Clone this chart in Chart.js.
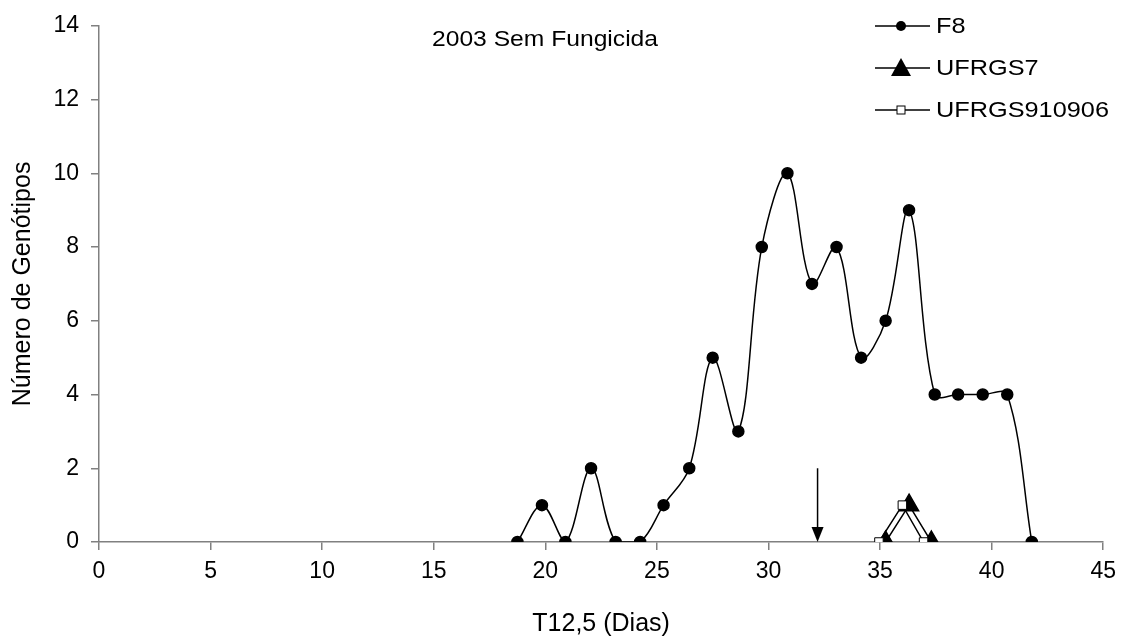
<!DOCTYPE html>
<html>
<head>
<meta charset="utf-8">
<script src="https://cdn.jsdelivr.net/npm/chart.js@4"></script>
<style>
  html, body { margin: 0; padding: 0; background: #fff; }
  #wrap { width: 1124px; height: 643px; }
</style>
</head>
<body>
<div id="wrap"><canvas id="chart"></canvas></div>
<script>
const f8Days = [18.75, 19.85, 20.9, 22.05, 23.15, 24.25, 25.3, 26.45, 27.5, 28.65, 29.7, 30.85, 31.95, 33.05, 34.15, 35.25, 36.3, 37.45, 38.5, 39.6, 40.7, 41.8];
const f8Values = [0, 1, 0, 2, 0, 0, 1, 2, 5, 3, 8, 10, 7, 8, 5, 6, 9, 4, 4, 4, 4, 0];
const ufrgs7Days = [35.25, 36.3, 37.3];
const ufrgs7Values = [0, 1, 0];
const ufrgs910906Days = [34.95, 36.0, 36.95];
const ufrgs910906Values = [0, 1, 0];
const arrowMark = { x: 32.2, from: 2, to: 0 };
const xTicks = [0, 5, 10, 15, 20, 25, 30, 35, 40, 45];
const yTicks = [0, 2, 4, 6, 8, 10, 12, 14];

const FONT = 'Arial, "Liberation Sans", sans-serif';
const toPoints = (xs, ys) => xs.map((x, i) => ({ x: x, y: ys[i] }));

// text in the source is a bit wider than tall, so stretch it a little
function wideText(ctx, text, x, y, stretch) {
  ctx.save();
  ctx.translate(x, y);
  ctx.scale(stretch, 1);
  ctx.fillText(text, 0, 0);
  ctx.restore();
}

// arrow, title and legend are drawn by hand like the original
const extras = {
  id: 'extras',
  afterDatasetsDraw(chart) {
    const ctx = chart.ctx;
    const xs = chart.scales.x, ys = chart.scales.y;
    const ax = xs.getPixelForValue(arrowMark.x);
    const y1 = ys.getPixelForValue(arrowMark.from);
    const y2 = ys.getPixelForValue(arrowMark.to);
    ctx.save();
    ctx.strokeStyle = '#000';
    ctx.fillStyle = '#000';
    ctx.lineWidth = 1.5;
    ctx.beginPath();
    ctx.moveTo(ax, y1);
    ctx.lineTo(ax, y2 - 10);
    ctx.stroke();
    ctx.beginPath();
    ctx.moveTo(ax - 6, y2 - 15);
    ctx.lineTo(ax + 6, y2 - 15);
    ctx.lineTo(ax, y2);
    ctx.closePath();
    ctx.fill();

    ctx.font = '22px ' + FONT;
    ctx.textBaseline = 'middle';
    ctx.textAlign = 'left';
    wideText(ctx, '2003 Sem Fungicida', 432, 40, 1.12);

    const rows = [
      { label: 'F8', y: 26, kind: 'circle' },
      { label: 'UFRGS7', y: 68, kind: 'triangle' },
      { label: 'UFRGS910906', y: 110, kind: 'square' }
    ];
    rows.forEach(r => {
      ctx.lineWidth = 1.5;
      ctx.strokeStyle = '#000';
      ctx.beginPath();
      ctx.moveTo(875, r.y);
      ctx.lineTo(930, r.y);
      ctx.stroke();
      ctx.fillStyle = '#000';
      if (r.kind === 'circle') {
        ctx.beginPath();
        ctx.arc(901, r.y, 5, 0, Math.PI * 2);
        ctx.fill();
      } else if (r.kind === 'triangle') {
        ctx.beginPath();
        ctx.moveTo(901, r.y - 10);
        ctx.lineTo(911, r.y + 8);
        ctx.lineTo(891, r.y + 8);
        ctx.closePath();
        ctx.fill();
      } else {
        ctx.fillStyle = '#fff';
        ctx.fillRect(897, r.y - 4, 8, 8);
        ctx.lineWidth = 1;
        ctx.strokeRect(897, r.y - 4, 8, 8);
      }
      ctx.fillStyle = '#000';
      wideText(ctx, r.label, 936, r.y + 1, 1.15);
    });
    ctx.restore();
  }
};

new Chart(document.getElementById('chart'), {
  type: 'line',
  data: {
    datasets: [
      {
        label: 'F8',
        data: toPoints(f8Days, f8Values),
        borderColor: '#000',
        borderWidth: 1.5,
        pointStyle: 'circle',
        pointRadius: 5.5,
        pointBackgroundColor: '#000',
        pointBorderColor: '#000',
        tension: 0.35,
        order: 1
      },
      {
        label: 'UFRGS7',
        data: toPoints(ufrgs7Days, ufrgs7Values),
        borderColor: '#000',
        borderWidth: 1.5,
        pointStyle: 'triangle',
        pointRadius: 11,
        pointBackgroundColor: '#000',
        pointBorderColor: '#000',
        tension: 0,
        order: 3
      },
      {
        label: 'UFRGS910906',
        data: toPoints(ufrgs910906Days, ufrgs910906Values),
        borderColor: '#000',
        borderWidth: 1.5,
        pointStyle: 'rect',
        pointRadius: 6,
        pointBorderWidth: 1,
        pointBackgroundColor: '#fff',
        pointBorderColor: '#000',
        tension: 0,
        order: 2
      }
    ]
  },
  options: {
    responsive: true,
    maintainAspectRatio: false,
    animation: false,
    layout: { padding: { top: 25, right: 19, left: 0, bottom: 0 } },
    plugins: {
      legend: { display: false },
      tooltip: { enabled: false }
    },
    scales: {
      x: {
        type: 'linear',
        min: 0,
        max: 45,
        afterBuildTicks: s => { s.ticks = xTicks.map(v => ({ value: v })); },
        afterFit: s => { s.height = 101; },
        border: { color: '#808080', width: 1.5 },
        grid: { drawOnChartArea: false, tickLength: 8, color: '#808080', lineWidth: 1.5 },
        ticks: { color: '#000', font: { family: FONT, size: 23 }, padding: 8, maxRotation: 0 },
        title: { display: true, text: 'T12,5 (Dias)', color: '#000', font: { family: FONT, size: 25 }, padding: { top: 6 } }
      },
      y: {
        min: 0,
        max: 14,
        afterBuildTicks: s => { s.ticks = yTicks.map(v => ({ value: v })); },
        afterFit: s => { s.width = 99; },
        border: { color: '#808080', width: 1.5 },
        grid: { drawOnChartArea: false, tickLength: 8, color: '#808080', lineWidth: 1.5 },
        ticks: { color: '#000', font: { family: FONT, size: 23 }, padding: 12 },
        title: { display: true, text: 'Número de Genótipos', color: '#000', font: { family: FONT, size: 25 }, padding: { top: 8, bottom: 0 } }
      }
    }
  },
  plugins: [extras]
});
</script>
</body>
</html>
